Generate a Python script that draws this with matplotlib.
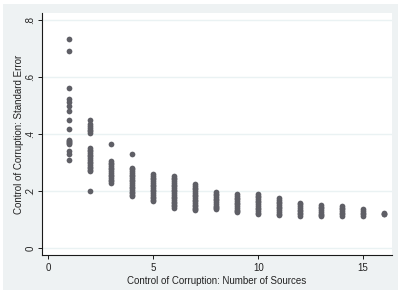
import matplotlib
matplotlib.use("Agg")
import matplotlib.pyplot as plt
from matplotlib.patches import Rectangle

# number of sources and standard errors
sources = [1, 2, 3, 4, 5, 6, 7, 8, 9, 10, 11, 12, 13, 14, 15, 16]
std_errors = [
    [0.736, 0.691, 0.563, 0.525, 0.513, 0.498, 0.480, 0.449, 0.420, 0.381,
     0.376, 0.372, 0.368, 0.364, 0.341, 0.330, 0.311],
    [0.449, 0.437, 0.430, 0.423, 0.416, 0.410, 0.404, 0.352, 0.346, 0.340,
     0.334, 0.328, 0.322, 0.316, 0.310, 0.304, 0.298, 0.292, 0.286, 0.280,
     0.275, 0.271, 0.200],
    [0.367, 0.306, 0.300, 0.294, 0.288, 0.282, 0.276, 0.270, 0.264, 0.258,
     0.252, 0.246, 0.240, 0.235, 0.230],
    [0.329, 0.282, 0.276, 0.270, 0.264, 0.258, 0.252, 0.246, 0.240, 0.234,
     0.228, 0.222, 0.216, 0.210, 0.204, 0.198, 0.192, 0.187, 0.183],
    [0.259, 0.253, 0.247, 0.241, 0.235, 0.229, 0.223, 0.217, 0.211, 0.205,
     0.199, 0.193, 0.187, 0.181, 0.175, 0.170, 0.166],
    [0.253, 0.247, 0.241, 0.235, 0.229, 0.223, 0.217, 0.211, 0.205, 0.199,
     0.193, 0.187, 0.181, 0.175, 0.169, 0.163, 0.157, 0.151, 0.146, 0.142],
    [0.224, 0.218, 0.212, 0.206, 0.200, 0.194, 0.188, 0.182, 0.176, 0.170,
     0.164, 0.158, 0.152, 0.146, 0.140, 0.136, 0.133],
    [0.197, 0.191, 0.185, 0.179, 0.173, 0.167, 0.161, 0.155, 0.149, 0.143,
     0.139, 0.136],
    [0.189, 0.183, 0.177, 0.171, 0.165, 0.159, 0.153, 0.147, 0.141, 0.135,
     0.130, 0.127],
    [0.189, 0.184, 0.178, 0.172, 0.166, 0.160, 0.154, 0.148, 0.142, 0.136,
     0.130, 0.124, 0.119],
    [0.175, 0.169, 0.163, 0.157, 0.151, 0.145, 0.139, 0.133, 0.127, 0.121,
     0.115],
    [0.159, 0.153, 0.147, 0.141, 0.135, 0.129, 0.123, 0.118, 0.113],
    [0.151, 0.145, 0.139, 0.133, 0.127, 0.121, 0.116, 0.111],
    [0.148, 0.142, 0.136, 0.130, 0.124, 0.118, 0.113],
    [0.136, 0.130, 0.124, 0.118, 0.113],
    [0.124, 0.121, 0.119],
]
y_ticks = [0, 0.2, 0.4, 0.6, 0.8]
y_labels = ["0", ".2", ".4", ".6", ".8"]
x_ticks = [0, 5, 10, 15]

plt.rcParams["font.family"] = ["Liberation Sans", "DejaVu Sans"]

fig = plt.figure(figsize=(3.98, 2.92), dpi=100)
fig.patch.set_facecolor("white")
# stata-like grey graph region, kept behind the axes
fig.patches.append(Rectangle((3 / 398, 2 / 292), 395 / 398, 286 / 292,
                             transform=fig.transFigure, facecolor="#eef2f3",
                             edgecolor="none", zorder=-10))

ax = fig.add_axes([0.1048, 0.1267, 0.880, 0.8288])
ax.set_facecolor("white")

xs = []
ys = []
for n, vals in zip(sources, std_errors):
    for v in vals:
        xs.append(n)
        ys.append(v)
ax.scatter(xs, ys, s=17, color="#5f5f66", linewidths=0, zorder=3)

ax.set_xlim(-0.31, 16.37)
ax.set_ylim(-0.0246, 0.826)
ax.set_yticks(y_ticks)
ax.set_yticklabels(y_labels, rotation=90, va="center")
ax.set_xticks(x_ticks)

for y in y_ticks:
    ax.axhline(y, color="#eaf2f3", linewidth=1.0, zorder=1)

for s in ["top", "right"]:
    ax.spines[s].set_visible(False)
for s in ["left", "bottom"]:
    ax.spines[s].set_linewidth(0.8)
    ax.spines[s].set_color("#1a1a1a")

ax.tick_params(axis="both", direction="out", length=3, width=0.7,
               color="#1a1a1a", labelsize=7, labelcolor="#222222")
ax.tick_params(axis="y", pad=1.5)
ax.tick_params(axis="x", pad=3)

ax.set_xlabel("Control of Corruption: Number of Sources", fontsize=7,
              color="#222222", labelpad=2)
ax.set_ylabel("Control of Corruption: Standard Error", fontsize=7,
              color="#222222", labelpad=1)

fig.savefig("out.png", dpi=100, facecolor=fig.get_facecolor())
